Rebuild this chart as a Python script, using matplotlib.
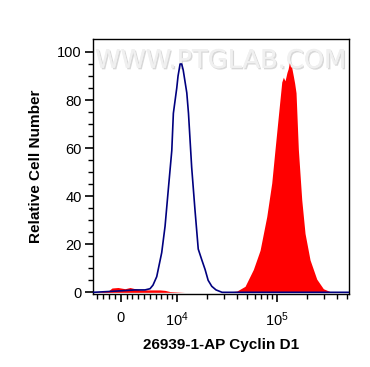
import numpy as np
import matplotlib
matplotlib.use("Agg")
import matplotlib.pyplot as plt
import matplotlib.patheffects as pe

plt.rcParams['font.family'] = ['Liberation Sans', 'DejaVu Sans']
plt.rcParams['mathtext.fontset'] = 'custom'
plt.rcParams['mathtext.rm'] = 'Liberation Sans'
plt.rcParams['mathtext.it'] = 'Liberation Sans'

# control (blue outline) histogram
blue_x = [-4700, -810, 2460, 4190, 5050, 5560, 6200, 7060, 7640, 8240, 8920, 9250,
          10000, 10300, 10800, 11200, 11600, 12600, 13100, 14100, 15200, 16400,
          17800, 19200, 20600, 22400, 24700, 28400, 530000]
blue_y = [0, 0.5, 1, 1, 1.5, 3, 6.5, 16.5, 27.5, 43, 59, 74.5,
          85, 90, 95, 95, 92.5, 83, 74.5, 52, 34.5, 18,
          13.5, 9.5, 5, 2.5, 1, 0, 0]

# Cyclin D1 stained sample (red filled) histogram
red_x = [-4700, -2190, -1500, -470, 740, 1600, 2460, 3320, 5050, 6770, 7640, 8570,
         12000, 30000, 39800, 48200, 58300, 68100, 79400, 89100, 96100, 103800,
         112200, 116400, 121000, 126500, 130000, 133600, 137000, 141200, 146500,
         151000, 155900, 164400, 177800, 191800, 215200, 251100, 292300, 354600, 530000]
red_y = [0, 0.5, 1.8, 2, 1.5, 2, 1.5, 1, 1, 1, 0.8, 0.3,
         0, 0, 0.5, 2.5, 9.5, 17.5, 31.5, 45.5, 59.5, 73.5,
         87.5, 89.5, 88, 91.5, 93, 95.5, 94, 93.5, 90,
         87, 83, 59.5, 38.5, 24.5, 13.5, 5.5, 1.5, 0, 0]

x_major = [0, 1e4, 1e5]
x_labels = ['0', '$10^4$', '$10^5$']
x_minor = [-4000, -3000, -2000, -1000, 1000, 2000, 3000, 4000, 5000, 6000, 7000,
           8000, 9000, 2e4, 3e4, 4e4, 5e4, 6e4, 7e4, 8e4, 9e4, 2e5, 3e5, 4e5, 5e5]

L = 7480.0
LN10 = np.log(10)


def fwd(x):
    x = np.asarray(x, dtype=float)
    a = np.abs(x)
    lin = x / (L * LN10)
    lg = np.sign(x) * (np.log10(np.maximum(a, 1e-12) / L) + 1 / LN10)
    return np.where(a <= L, lin, lg)


def inv(f):
    f = np.asarray(f, dtype=float)
    a = np.abs(f)
    lin = f * L * LN10
    lg = np.sign(f) * L * 10 ** (a - 1 / LN10)
    return np.where(a <= 1 / LN10, lin, lg)


fig = plt.figure(figsize=(3.7, 3.67), dpi=100)
ax = fig.add_axes([0.2514, 0.1989, 0.6919, 0.6948])
ax.set_xscale('function', functions=(fwd, inv))

ax.fill_between(red_x, red_y, 0, color='#ff0000', linewidth=0, zorder=2)
ax.plot(blue_x, blue_y, color='#00007f', linewidth=1.2, zorder=3)

ax.set_xlim(-4770, 528000)
ax.set_ylim(-0.7, 105.4)

ax.set_xticks(x_major)
ax.set_xticklabels(x_labels)
ax.set_xticks(x_minor, minor=True)
ax.set_yticks([0, 20, 40, 60, 80, 100])
ax.set_yticks(np.arange(0, 105, 5), minor=True)

ax.tick_params(axis='both', which='major', length=6, width=1.2, labelsize=10.5, direction='out')
ax.tick_params(axis='both', which='minor', length=3.5, width=1, direction='out')
ax.tick_params(axis='x', which='major', pad=6)
ax.tick_params(axis='y', which='major', pad=2)
for s in ax.spines.values():
    s.set_linewidth(1)

ax.set_ylabel('Relative Cell Number', fontsize=11, fontweight='bold', labelpad=10)
ax.set_xlabel('26939-1-AP Cyclin D1', fontsize=11, fontweight='bold', labelpad=6)

# faint watermark across the top
ax.text(0.5, 0.965, 'WWW.PTGLAB.COM', transform=ax.transAxes, ha='center', va='top',
        fontsize=18.5, color='#f0f0f0', family='DejaVu Sans', zorder=1,
        path_effects=[pe.withSimplePatchShadow(offset=(1, -1), shadow_rgbFace='#c8c8c8', alpha=0.7),
                      pe.Normal()])

fig.savefig('out.png', dpi=100)
